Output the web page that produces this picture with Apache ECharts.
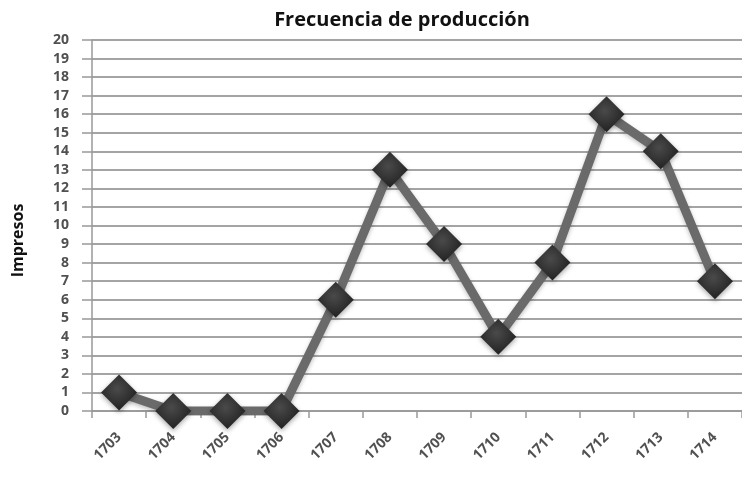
<!DOCTYPE html>
<html>
<head>
<meta charset="utf-8">
<script src="https://cdn.jsdelivr.net/npm/echarts@6/dist/echarts.min.js"></script>
<style>html,body{margin:0;padding:0;background:#fff;}#c{width:742px;height:481px;}</style>
</head>
<body>
<div id="c"></div>
<script>
var categories = ['1703','1704','1705','1706','1707','1708','1709','1710','1711','1712','1713','1714'];
var impresos = [1, 0, 0, 0, 6, 13, 9, 4, 8, 16, 14, 7];
var titleText = 'Frecuencia de producción';
var yName = 'Impresos';

var chart = echarts.init(document.getElementById('c'));
chart.setOption({
  animation: false,
  backgroundColor: '#ffffff',
  title: {
    text: titleText,
    left: 397,
    textAlign: 'center',
    top: 5,
    textStyle: { fontFamily: 'Open Sans', fontWeight: 'bold', fontSize: 20, color: '#111' }
  },
  grid: { left: 92, top: 40, width: 654, height: 371 },
  xAxis: {
    type: 'category',
    data: categories,
    boundaryGap: true,
    axisLine: { show: true, lineStyle: { color: '#999', width: 1.5 } },
    axisTick: { show: true, length: 7, lineStyle: { color: '#999', width: 1.5 } },
    axisLabel: { rotate: 45, margin: 24, fontFamily: 'Open Sans', fontWeight: 'bold', fontSize: 14, color: '#505050' },
    splitLine: { show: false }
  },
  yAxis: {
    type: 'value',
    min: 0, max: 20, interval: 1,
    name: yName,
    nameLocation: 'middle',
    nameRotate: 90,
    nameGap: 66,
    nameTextStyle: { fontFamily: 'Open Sans', fontWeight: 'bold', fontSize: 16, color: '#111', padding: [0, 0, 0, -30] },
    axisLine: { show: true, lineStyle: { color: '#999', width: 1.5 } },
    axisTick: { show: true, inside: false, length: 10, lineStyle: { color: '#999', width: 1.5 } },
    axisLabel: { margin: 23, fontFamily: 'Open Sans', fontWeight: 'bold', fontSize: 14, color: '#505050', lineHeight: 15 },
    splitLine: { show: true, lineStyle: { color: '#a4a4a4', width: 2 } }
  },
  series: [{
    type: 'line',
    data: impresos,
    symbol: 'diamond',
    symbolSize: 36,
    lineStyle: { color: '#6a6a6a', width: 9, shadowColor: 'rgba(0,0,0,0.25)', shadowBlur: 4, shadowOffsetY: 2 },
    itemStyle: {
      color: {
        type: 'radial', x: 0.45, y: 0.4, r: 0.6,
        colorStops: [{ offset: 0, color: '#4a4a4a' }, { offset: 1, color: '#222' }]
      },
      borderWidth: 0,
      shadowColor: 'rgba(0,0,0,0.35)', shadowBlur: 5, shadowOffsetY: 2
    },
    z: 3
  }]
});
</script>
</body>
</html>
